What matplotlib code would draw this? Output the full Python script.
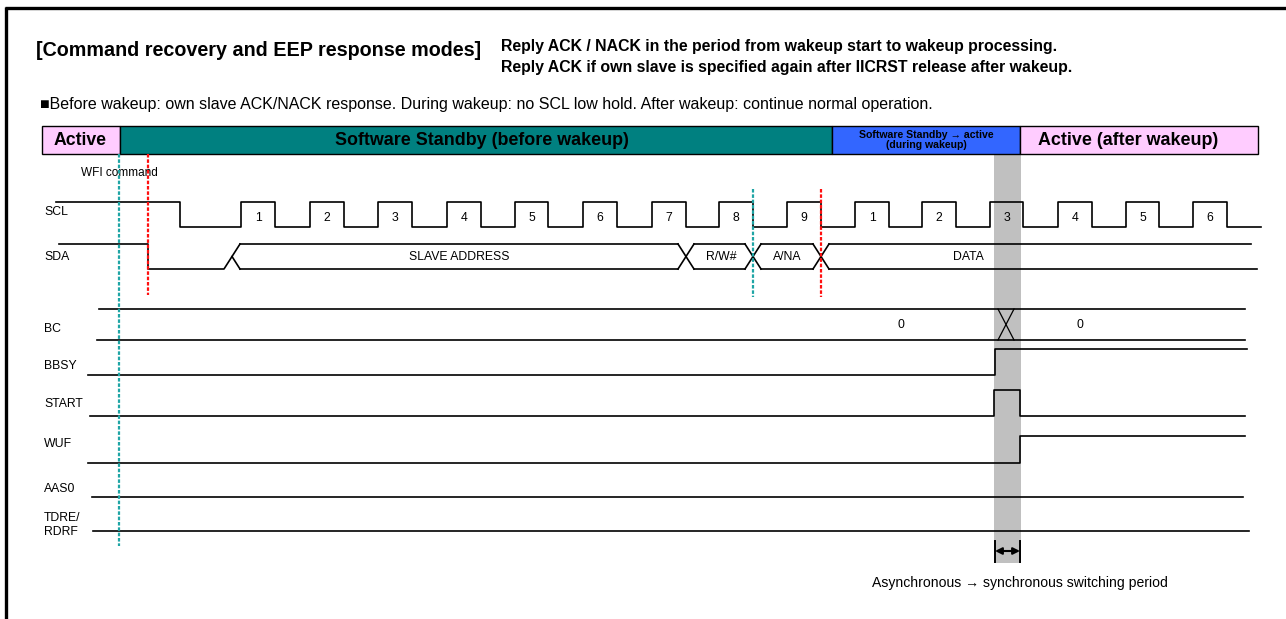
import matplotlib
matplotlib.use("Agg")
import matplotlib.pyplot as plt
from matplotlib.patches import Rectangle

FONT = ['Liberation Sans', 'DejaVu Sans']
plt.rcParams['font.family'] = FONT

# ---------------- data (time axis in diagram units) ----------------
title_main = "[Command recovery and EEP response modes]"
title_sub = ["Reply ACK / NACK in the period from wakeup start to wakeup processing.",
             "Reply ACK if own slave is specified again after IICRST release after wakeup."]
note_text = "\u25a0Before wakeup: own slave ACK/NACK response. During wakeup: no SCL low hold. After wakeup: continue normal operation."

phase_names = ["Active", "Software Standby (before wakeup)",
               "Software Standby \u2192 active\n(during wakeup)", "Active (after wakeup)"]
phase_bounds = [42, 120, 832, 1020, 1258]
phase_colors = ["#FFCCFF", "#008080", "#3366FF", "#FFCCFF"]
phase_fsize = [12.7, 12.9, 7.6, 12.9]
phase_text_x = [80.5, 482, 926, 1128]

signal_names = ["SCL", "SDA", "BC", "BBSY", "START", "WUF", "AAS0", "TDRE/\nRDRF"]
signal_label_y = [212, 257, 329, 366, 404, 444, 489, 525]

# SCL clock
scl_start, scl_first_fall, scl_end = 56, 180, 1261
scl_rise = [241, 310, 378, 447, 515, 583, 652, 719, 787, 855, 922, 990, 1058, 1126, 1193]
scl_fall = [275, 344, 412, 481, 548, 617, 686, 753, 821, 889, 956, 1023, 1092, 1159, 1227]
scl_labels = ["1", "2", "3", "4", "5", "6", "7", "8", "9", "1", "2", "3", "4", "5", "6"]

# SDA
sda_start, sda_fall, sda_bus_start, sda_end = 59, 148, 232, 1257
sda_cross = [686, 753, 821]
sda_fields = ["SLAVE ADDRESS", "R/W#", "A/NA", "DATA"]
sda_field_x = [459, 721, 787, 968]

# BC
bc_start, bc_end, bc_cross = 98, 1245, 1006
bc_values = ["0", "0"]
bc_value_x = [901, 1080]

# flag signals: transition times with levels (0 = low, 1 = high)
bbsy_t = [88, 995, 1247]
bbsy_lv = [0, 1]
start_t = [90, 994, 1020, 1245]
start_lv = [0, 1, 0]
wuf_t = [88, 1020, 1245]
wuf_lv = [0, 1]
aas0_t = [92, 1243]
tdre_t = [93, 1249]

wfi_x = 148
wake_start_x = 119
ack_marks = [753, 821]
sync_period = [994, 1021]

# ---------------- figure ----------------
fig = plt.figure(figsize=(12.86, 6.19), dpi=100)
ax = fig.add_axes([0, 0, 1, 1])
ax.set_xlim(0, 1286)
ax.set_ylim(619, 0)
ax.axis('off')

LW = 1.2
K = 'black'
LBL = 8.8

# frame
ax.plot([6, 6], [619, 7], color=K, lw=2.4, solid_capstyle='butt')
ax.plot([5, 1286], [7.5, 7.5], color=K, lw=2.4, solid_capstyle='butt')

# titles
ax.text(36, 50, title_main, fontsize=14.25, fontweight='bold', va='center', ha='left')
ax.text(501, 46, title_sub[0], fontsize=11.4, fontweight='bold', va='center', ha='left')
ax.text(501, 67.5, title_sub[1], fontsize=11.4, fontweight='bold', va='center', ha='left')
ax.text(40, 104, note_text, fontsize=11.5, va='center', ha='left')

# header bar
HT, HB = 126, 154
for i, name in enumerate(phase_names):
    x0, x1 = phase_bounds[i], phase_bounds[i + 1]
    ax.add_patch(Rectangle((x0, HT), x1 - x0, HB - HT, facecolor=phase_colors[i],
                           edgecolor=K, lw=1.0, zorder=2))
    ax.text(phase_text_x[i], (HT + HB) / 2 + 0.5, name, fontsize=phase_fsize[i],
            fontweight='bold', ha='center', va='center', zorder=3,
            linespacing=1.0)

# grey sync band
ax.add_patch(Rectangle((sync_period[0], HB), sync_period[1] - sync_period[0], 563 - HB,
                       facecolor='#C0C0C0', edgecolor='none', zorder=0))

# signal labels
for name, y in zip(signal_names, signal_label_y):
    ax.text(44, y, name, fontsize=LBL, ha='left', va='center', linespacing=1.2)
ax.text(81, 173, "WFI command", fontsize=8.5, ha='left', va='center')

# SCL
SH, SL = 202, 227
xs = [scl_start, scl_first_fall, scl_first_fall]
ys = [SH, SH, SL]
for r, f in zip(scl_rise, scl_fall):
    xs += [r, r, f, f]
    ys += [SL, SH, SH, SL]
xs += [scl_end]
ys += [SL]
ax.plot(xs, ys, color=K, lw=LW, zorder=3)
for r, f, lab in zip(scl_rise, scl_fall, scl_labels):
    ax.text((r + f) / 2, 218, lab, fontsize=LBL, ha='center', va='center')

# SDA
DH, DL, DM = 244, 269, 256.5
W = 8
ax.plot([sda_start, sda_fall, sda_fall, sda_bus_start - W, sda_bus_start + W],
        [DH, DH, DL, DL, DH], color=K, lw=LW, zorder=3)
ax.plot([sda_bus_start, sda_bus_start + W], [DM, DL], color=K, lw=LW, zorder=3)
seg_starts = [sda_bus_start] + sda_cross
seg_ends = sda_cross + [sda_end]
for i, (a, b) in enumerate(zip(seg_starts, seg_ends)):
    last = (i == len(seg_starts) - 1)
    xa = a + W
    xb = b if last else b - W
    ax.plot([xa, xb - (6 if last else 0)], [DH, DH], color=K, lw=LW, zorder=3)
    ax.plot([xa, xb], [DL, DL], color=K, lw=LW, zorder=3)
for c in sda_cross:
    ax.plot([c - W, c + W], [DH, DL], color=K, lw=LW, zorder=3)
    ax.plot([c - W, c + W], [DL, DH], color=K, lw=LW, zorder=3)
for lab, x in zip(sda_fields, sda_field_x):
    ax.text(x, DM + 1, lab, fontsize=LBL, ha='center', va='center', zorder=4)

# BC
BT, BB = 309, 340
ax.plot([bc_start + 1, bc_end], [BT, BT], color=K, lw=LW, zorder=3)
ax.plot([bc_start - 1, bc_end], [BB, BB], color=K, lw=LW, zorder=3)
ax.plot([bc_cross - 8, bc_cross + 8], [BT, BB], color=K, lw=0.9, zorder=3)
ax.plot([bc_cross - 8, bc_cross + 8], [BB, BT], color=K, lw=0.9, zorder=3)
for v, x in zip(bc_values, bc_value_x):
    ax.text(x, 325, v, fontsize=LBL, ha='center', va='center')


def flag(times, levels, ylow, yhigh):
    xs, ys = [], []
    for i, lv in enumerate(levels):
        y = yhigh if lv else ylow
        xs += [times[i], times[i + 1]]
        ys += [y, y]
    ax.plot(xs, ys, color=K, lw=LW, zorder=3)


flag(bbsy_t, bbsy_lv, 375, 349)
flag(start_t, start_lv, 416, 390)
flag(wuf_t, wuf_lv, 463, 436)
flag(aas0_t, [0], 497, 497)
flag(tdre_t, [0], 531, 531)

# marker lines
TEAL = '#1FA5A5'
RED = '#FF1010'
ds = (0, (1.6, 0.8))
ax.plot([wake_start_x, wake_start_x], [HB, 546], color=TEAL, lw=1.6, ls=ds, zorder=4)
ax.plot([wfi_x, wfi_x], [HB, 295], color=RED, lw=1.6, ls=ds, zorder=4)
ax.plot([ack_marks[0]] * 2, [189, 297], color=TEAL, lw=1.6, ls=ds, zorder=4)
ax.plot([ack_marks[1]] * 2, [189, 297], color=RED, lw=1.6, ls=ds, zorder=4)

# sync period arrow
ay = 551
ax.annotate('', xy=(sync_period[1] - 1, ay), xytext=(sync_period[0] + 1, ay),
            arrowprops=dict(arrowstyle='<|-|>', color=K, lw=1.5,
                            mutation_scale=10, shrinkA=0, shrinkB=0), zorder=5)
for x in [sync_period[0] + 1, sync_period[1] - 1]:
    ax.plot([x, x], [541, 562], color=K, lw=1.4, zorder=5)
ax.text(872, 583, "Asynchronous \u2192 synchronous switching period", fontsize=10.1,
        ha='left', va='center')

fig.savefig("out.png", dpi=100)
